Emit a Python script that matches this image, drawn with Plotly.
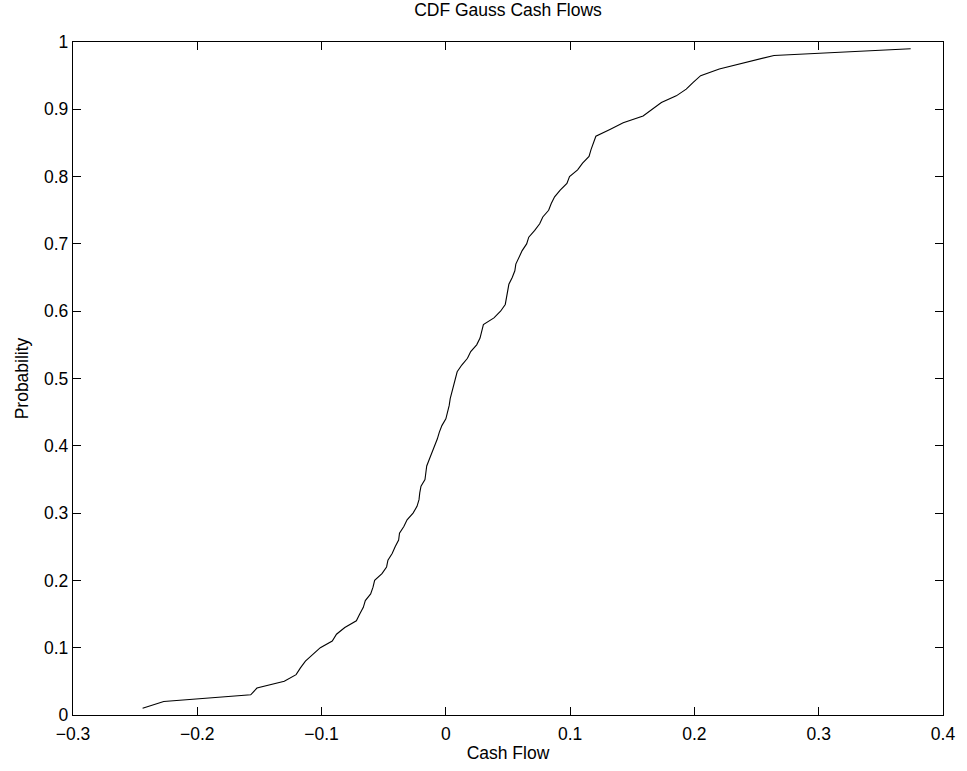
import plotly.graph_objects as go

# Cumulative probability levels
probability = [
    0.01, 0.02, 0.03, 0.04, 0.05, 0.06, 0.07, 0.08, 0.09, 0.10,
    0.11, 0.12, 0.13, 0.14, 0.15, 0.16, 0.17, 0.18, 0.19, 0.20,
    0.21, 0.22, 0.23, 0.24, 0.25, 0.26, 0.27, 0.28, 0.29, 0.30,
    0.31, 0.32, 0.33, 0.34, 0.35, 0.36, 0.37, 0.38, 0.39, 0.40,
    0.41, 0.42, 0.43, 0.44, 0.45, 0.46, 0.47, 0.48, 0.49, 0.50,
    0.51, 0.52, 0.53, 0.54, 0.55, 0.56, 0.57, 0.58, 0.59, 0.60,
    0.61, 0.62, 0.63, 0.64, 0.65, 0.66, 0.67, 0.68, 0.69, 0.70,
    0.71, 0.72, 0.73, 0.74, 0.75, 0.76, 0.77, 0.78, 0.79, 0.80,
    0.81, 0.82, 0.83, 0.84, 0.85, 0.86, 0.87, 0.88, 0.89, 0.90,
    0.91, 0.92, 0.93, 0.94, 0.95, 0.96, 0.97, 0.98, 0.99,
]

# Sorted cash flows
cash_flow = [
    -0.244, -0.227, -0.157, -0.152, -0.130, -0.1205, -0.117, -0.113, -0.107, -0.101,
    -0.0914, -0.088, -0.0813, -0.072, -0.0693, -0.0664, -0.0648, -0.0605, -0.0586, -0.0573,
    -0.0514, -0.0477, -0.0466, -0.0432, -0.0408, -0.038, -0.0373, -0.0338, -0.0312, -0.0264,
    -0.0232, -0.0216, -0.021, -0.020, -0.0168, -0.0162, -0.0154, -0.0133, -0.0112, -0.0088,
    -0.0069, -0.0053, -0.0032, 0.0, 0.0016, 0.0027, 0.0035, 0.0048, 0.0064, 0.0072,
    0.0091, 0.0128, 0.0174, 0.020, 0.0248, 0.0275, 0.0288, 0.0302, 0.0387, 0.044,
    0.0478, 0.0488, 0.0499, 0.0507, 0.0534, 0.0555, 0.0563, 0.0587, 0.0614, 0.065,
    0.0667, 0.0715, 0.0755, 0.078, 0.0827, 0.0848, 0.0875, 0.092, 0.0974, 0.0995,
    0.106, 0.110, 0.1152, 0.1168, 0.1187, 0.1207, 0.132, 0.1427, 0.1587, 0.166,
    0.1734, 0.1854, 0.1934, 0.199, 0.205, 0.220, 0.242, 0.264, 0.374,
]

x_tickvals = [-0.3, -0.2, -0.1, 0, 0.1, 0.2, 0.3, 0.4]
x_ticktext = ["\u22120.3", "\u22120.2", "\u22120.1", "0", "0.1", "0.2", "0.3", "0.4"]
y_tickvals = [0, 0.1, 0.2, 0.3, 0.4, 0.5, 0.6, 0.7, 0.8, 0.9, 1]
y_ticktext = ["0", "0.1", "0.2", "0.3", "0.4", "0.5", "0.6", "0.7", "0.8", "0.9", "1"]

FONT = "Liberation Sans, Arial, sans-serif"
FS = 17.5

fig = go.Figure()
fig.add_trace(go.Scatter(
    x=cash_flow, y=probability, mode="lines",
    line=dict(color="black", width=1.1),
    showlegend=False, hoverinfo="x+y",
))

axis_common = dict(
    showgrid=False, zeroline=False,
    showline=True, linecolor="black", linewidth=1.3, mirror="ticks",
    ticks="inside", ticklen=8, tickwidth=1, tickcolor="black",
    tickfont=dict(family=FONT, size=FS, color="black"),
)

fig.update_layout(
    width=967, height=771,
    margin=dict(l=73, r=19, t=42, b=55),
    paper_bgcolor="white", plot_bgcolor="white",
    font=dict(family=FONT, size=FS, color="black"),
    title=dict(text="CDF Gauss Cash Flows", x=0.5, xref="paper", xanchor="center",
               y=1 - 10 / 771, yref="container", yanchor="middle",
               font=dict(family=FONT, size=FS, color="black")),
    xaxis=dict(range=[-0.3, 0.4], tickvals=x_tickvals, ticktext=x_ticktext,
               ticklabelstandoff=3,
               title=dict(text="Cash Flow", standoff=3,
                          font=dict(family=FONT, size=FS, color="black")),
               **axis_common),
    yaxis=dict(range=[0, 1], tickvals=y_tickvals, ticktext=y_ticktext,
               title=dict(text="Probability", standoff=10,
                          font=dict(family=FONT, size=FS, color="black")),
               **axis_common),
)

fig.write_html("out.html")
